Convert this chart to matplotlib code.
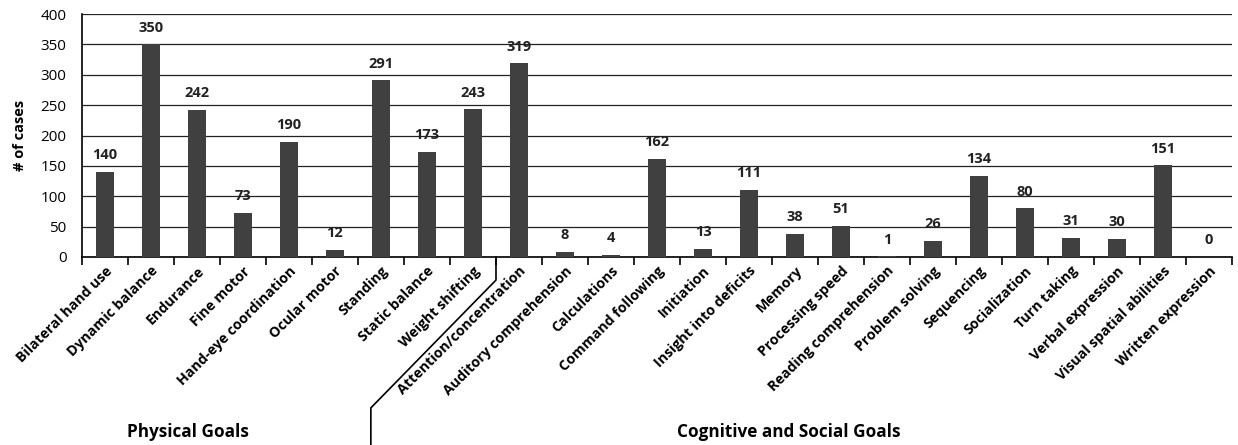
import matplotlib
matplotlib.use('Agg')
from matplotlib import pyplot as plt
import matplotlib.transforms as mtransforms

# данные
goals = ['Bilateral hand use', 'Dynamic balance', 'Endurance', 'Fine motor',
         'Hand-eye coordination', 'Ocular motor', 'Standing', 'Static balance',
         'Weight shifting', 'Attention/concentration', 'Auditory comprehension',
         'Calculations', 'Command following', 'Initiation', 'Insight into deficits',
         'Memory', 'Processing speed', 'Reading comprehension', 'Problem solving',
         'Sequencing', 'Socialization', 'Turn taking', 'Verbal expression',
         'Visual spatial abilities', 'Written expression']
cases = [140, 350, 242, 73, 190, 12, 291, 173, 243, 319, 8, 4, 162, 13, 111,
         38, 51, 1, 26, 134, 80, 31, 30, 151, 0]
groups = ['Physical Goals', 'Cognitive and Social Goals']
n_physical = 9

plt.rcParams['font.family'] = ['Open Sans', 'DejaVu Sans']

fig = plt.figure(figsize=(12.38, 4.45), dpi=100)
ax = fig.add_axes([0.0662, 0.4225, 0.929, 0.5460])

x = list(range(len(goals)))
ax.bar(x, cases, width=0.41, color='#404040', zorder=3)
for xi, v in zip(x, cases):
    ax.text(xi, v + 16, str(v), ha='center', va='bottom', fontsize=10.5,
            fontweight='bold', color='#222222')

ax.set_xlim(-0.5, len(goals) - 0.5)
ax.set_ylim(0, 400)
ax.set_yticks(range(0, 401, 50))
ax.yaxis.grid(True, color='#222222', linewidth=0.9, zorder=0)
ax.tick_params(axis='y', length=0, labelsize=11, pad=11)
ax.set_ylabel('# of cases', fontsize=10.5, fontweight='bold', labelpad=10)

# подписи категорий
ax.set_xticks(x)
ax.set_xticklabels(goals, rotation=45, ha='right', rotation_mode='anchor',
                   fontsize=10.2, fontweight='bold')
ax.tick_params(axis='x', length=0, pad=5)
ax.set_xticks([i + 0.5 for i in range(-1, len(goals))], minor=True)
ax.tick_params(axis='x', which='minor', length=6, direction='out', width=1.2)

for side in ['top', 'right']:
    ax.spines[side].set_visible(False)
ax.spines['left'].set_linewidth(1.2)
ax.spines['bottom'].set_linewidth(1.2)

# разделитель групп
trans = mtransforms.blended_transform_factory(ax.transData, ax.transAxes)
bx = n_physical - 0.5
ax.plot([bx, bx, 5.78, 5.78], [0, -0.095, -0.621, -0.78], color='black',
        linewidth=1.2, transform=trans, clip_on=False)

ax.text(1.80, -0.72, groups[0], transform=trans, ha='center', va='center',
        fontsize=12.3, fontweight='bold')
ax.text(14.87, -0.72, groups[1], transform=trans, ha='center', va='center',
        fontsize=12.3, fontweight='bold')

fig.savefig('out.png', dpi=100)
